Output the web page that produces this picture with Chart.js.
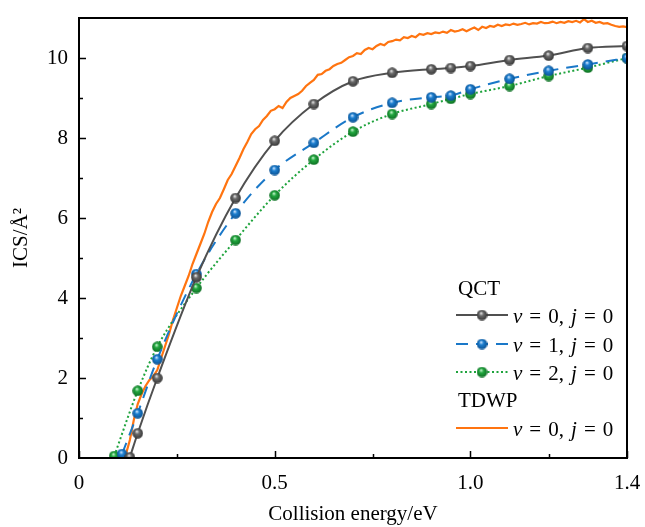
<!DOCTYPE html>
<html>
<head>
<meta charset="utf-8">
<script src="https://cdn.jsdelivr.net/npm/chart.js@4/dist/chart.umd.min.js"></script>
<style>
  html, body { margin: 0; padding: 0; background: #fff; }
  #wrap { width: 645px; height: 527px; }
</style>
</head>
<body>
<div id="wrap"><canvas id="ics-chart"></canvas></div>
<script>
// QCT results, v = 0, 1, 2 (j = 0)
const qctV0E = [0.13, 0.15, 0.2, 0.3, 0.4, 0.5, 0.6, 0.7, 0.8, 0.9, 0.95, 1.0, 1.1, 1.2, 1.3, 1.4];
const qctV0 = [0.02, 0.62, 2.0, 4.52, 6.5, 7.93, 8.85, 9.42, 9.63, 9.72, 9.75, 9.8, 9.95, 10.06, 10.25, 10.3];
const qctV1E = [0.11, 0.15, 0.2, 0.3, 0.4, 0.5, 0.6, 0.7, 0.8, 0.9, 0.95, 1.0, 1.1, 1.2, 1.3, 1.4];
const qctV1 = [0.1, 1.12, 2.47, 4.6, 6.12, 7.2, 7.88, 8.52, 8.88, 9.02, 9.06, 9.22, 9.48, 9.68, 9.84, 10.0];
const qctV2E = [0.09, 0.15, 0.2, 0.3, 0.4, 0.5, 0.6, 0.7, 0.8, 0.9, 0.95, 1.0, 1.1, 1.2, 1.3, 1.4];
const qctV2 = [0.05, 1.68, 2.78, 4.25, 5.45, 6.57, 7.46, 8.16, 8.6, 8.85, 8.98, 9.1, 9.3, 9.55, 9.76, 10.0];

// TDWP, v = 0, j = 0 : energy grid from 0.06 eV every 0.01 eV
const tdwpStart = 0.06, tdwpStep = 0.01;
const tdwpV0 = [
  0, 0, 0, 0, 0, 0.02, 0.1, 0.45, 0.95, 1.35,
  1.6, 1.8, 1.95, 2.05, 2.2, 2.5, 2.8, 3.1, 3.45, 3.75,
  4.05, 4.3, 4.55, 4.85, 5.1, 5.35, 5.6, 5.9, 6.15, 6.35,
  6.5, 6.72, 6.95, 7.1, 7.3, 7.5, 7.72, 7.9, 8.1, 8.22,
  8.3, 8.45, 8.55, 8.68, 8.72, 8.8, 8.75, 8.9, 9.0, 9.05,
  9.1, 9.18, 9.3, 9.38, 9.45, 9.58, 9.6, 9.68, 9.72, 9.8,
  9.85, 9.88, 9.95, 10.02, 10.05, 10.12, 10.1, 10.2, 10.25, 10.22,
  10.3, 10.35, 10.32, 10.4, 10.42, 10.46, 10.44, 10.52, 10.5, 10.55,
  10.52, 10.6, 10.58, 10.62, 10.6, 10.64, 10.62, 10.66, 10.63, 10.7,
  10.66, 10.68, 10.72, 10.67, 10.72, 10.76, 10.7, 10.78, 10.75, 10.8,
  10.78, 10.83, 10.8, 10.84, 10.82, 10.86, 10.83, 10.85, 10.88, 10.84,
  10.87, 10.86, 10.9, 10.87, 10.88, 10.91, 10.87, 10.9, 10.88, 10.92,
  10.9, 10.93, 10.89, 10.97, 10.9, 10.93, 10.88, 10.9, 10.86, 10.87,
  10.83, 10.8, 10.78, 10.79, 10.77
];

const xTickValues = [0, 0.25, 0.5, 0.75, 1.0, 1.2, 1.4];
const xTickLabels = {0: "0", 0.5: "0.5", 1: "1.0", 1.4: "1.4"};
const yLabelValues = [0, 2, 4, 6, 8, 10];

const serif = "'Liberation Serif', 'Times New Roman', serif";

function toPoints(xs, ys) {
  return ys.map((y, i) => ({x: xs[i], y: y}));
}
const tdwpPoints = tdwpV0.map((y, i) => ({x: +(tdwpStart + i * tdwpStep).toFixed(2), y: y}));

// little shaded balls used as markers
function sphere(light, mid, dark) {
  const d = 11;
  const c = document.createElement("canvas");
  c.width = d; c.height = d;
  const g = c.getContext("2d");
  const grd = g.createRadialGradient(4.6, 3.6, 0.3, 5.5, 5.5, 5.6);
  grd.addColorStop(0, light);
  grd.addColorStop(0.35, mid);
  grd.addColorStop(1, dark);
  g.fillStyle = grd;
  g.beginPath();
  g.arc(5.5, 5.5, 5.3, 0, Math.PI * 2);
  g.fill();
  return c;
}
const graySphere = sphere("#e8e8e8", "#6a6a6a", "#333333");
const blueSphere = sphere("#cfe6ff", "#1c7fd0", "#0a4f8f");
const greenSphere = sphere("#c8f5cf", "#22a83f", "#0d6b22");

// frame, inward tick marks and the grouped legend
const framePlugin = {
  id: "frame",
  afterDraw(chart) {
    const ctx = chart.ctx;
    const a = chart.chartArea;
    const xs = chart.scales.x, ys = chart.scales.y;
    ctx.save();
    ctx.strokeStyle = "#000";
    ctx.lineWidth = 2;
    ctx.strokeRect(a.left, a.top, a.right - a.left, a.bottom - a.top);

    ctx.lineWidth = 1.5;
    ctx.beginPath();
    xTickValues.forEach(v => {
      const px = Math.round(xs.getPixelForValue(v)) + 0.5;
      const len = (v in xTickLabels) ? 7 : 4;
      ctx.moveTo(px, a.bottom);
      ctx.lineTo(px, a.bottom - len);
    });
    for (let v = 1; v <= 10; v++) {
      const py = Math.round(ys.getPixelForValue(v)) + 0.5;
      const len = (v % 2 === 0) ? 7 : 4;
      ctx.moveTo(a.left, py);
      ctx.lineTo(a.left + len, py);
    }
    ctx.stroke();

    // legend
    const lx0 = 456, lx1 = 508, tx = 513;
    ctx.fillStyle = "#000";
    ctx.textBaseline = "alphabetic";
    ctx.font = "21px " + serif;
    ctx.fillText("QCT", 458, 295);
    ctx.fillText("TDWP", 458, 407);

    const rows = [
      {ds: 3, y: 315, img: graySphere},
      {ds: 2, y: 344, img: blueSphere},
      {ds: 1, y: 372, img: greenSphere},
      {ds: 0, y: 428, img: null}
    ];
    rows.forEach(r => {
      const dso = chart.data.datasets[r.ds];
      ctx.save();
      ctx.strokeStyle = dso.borderColor;
      ctx.lineWidth = dso.borderWidth;
      ctx.setLineDash(dso.borderDash || []);
      ctx.beginPath();
      ctx.moveTo(lx0, r.y);
      ctx.lineTo(lx1, r.y);
      ctx.stroke();
      ctx.restore();
      if (r.img) ctx.drawImage(r.img, (lx0 + lx1) / 2 - 5.5, r.y - 5.5);
      // "v = n, j = 0" with italic symbols and a bit of math spacing
      const parts = [
        ["italic", "v"], [" "], ["", "="], [" "], ["", dso.vib + ","], [" "],
        ["italic", "j"], [" "], ["", "="], [" "], ["", "0"]
      ];
      let x = tx;
      parts.forEach(p => {
        ctx.font = "21px " + serif;
        if (p.length === 1) {
          x += ctx.measureText(" ").width + 1.8;
          return;
        }
        if (p[0]) ctx.font = p[0] + " 21px " + serif;
        ctx.fillText(p[1], x, r.y + 8);
        x += ctx.measureText(p[1]).width;
      });
    });
    ctx.restore();
  }
};

new Chart("ics-chart", {
  type: "line",
  data: {
    datasets: [
      {
        label: "TDWP v = 0, j = 0",
        vib: 0,
        data: tdwpPoints,
        borderColor: "#ff7410",
        borderWidth: 2.2,
        pointRadius: 0,
        tension: 0
      },
      {
        label: "QCT v = 2, j = 0",
        vib: 2,
        data: toPoints(qctV2E, qctV2),
        borderColor: "#1ea33c",
        borderWidth: 2,
        borderDash: [2, 2.5],
        pointStyle: greenSphere,
        cubicInterpolationMode: "monotone"
      },
      {
        label: "QCT v = 1, j = 0",
        vib: 1,
        data: toPoints(qctV1E, qctV1),
        borderColor: "#1a78c8",
        borderWidth: 2,
        borderDash: [12, 8],
        pointStyle: blueSphere,
        cubicInterpolationMode: "monotone"
      },
      {
        label: "QCT v = 0, j = 0",
        vib: 0,
        data: toPoints(qctV0E, qctV0),
        borderColor: "#505050",
        borderWidth: 2,
        pointStyle: graySphere,
        cubicInterpolationMode: "monotone"
      }
    ].map((d, i) => Object.assign(d, {order: 4 - i}))
  },
  options: {
    responsive: true,
    maintainAspectRatio: false,
    animation: false,
    layout: { padding: { top: 18, right: 18, left: 0, bottom: 0 } },
    plugins: {
      legend: { display: false },
      tooltip: { enabled: false }
    },
    elements: {
      point: { radius: 5.5 },
      line: { fill: false }
    },
    scales: {
      x: {
        type: "linear",
        min: 0,
        max: 1.4,
        afterBuildTicks: scale => {
          scale.ticks = xTickValues.map(v => ({value: v}));
        },
        afterFit: scale => {
          scale.height = 69;
          scale.paddingLeft = 0;
          scale.paddingRight = 0;
        },
        grid: { display: false, drawTicks: false },
        border: { display: false },
        ticks: {
          autoSkip: false,
          maxRotation: 0,
          padding: 13,
          color: "#000",
          font: { family: serif, size: 21 },
          callback: v => (v in xTickLabels) ? xTickLabels[v] : ""
        },
        title: {
          display: true,
          text: "Collision energy/eV",
          color: "#000",
          font: { family: serif, size: 21 },
          padding: { top: 0, bottom: 0 }
        }
      },
      y: {
        min: 0,
        max: 11,
        afterFit: scale => {
          scale.width = 79;
          scale.paddingTop = 0;
          scale.paddingBottom = 0;
        },
        grid: { display: false, drawTicks: false },
        border: { display: false },
        ticks: {
          stepSize: 1,
          autoSkip: false,
          padding: 11,
          color: "#000",
          font: { family: serif, size: 21 },
          callback: v => yLabelValues.includes(v) ? String(v) : ""
        },
        title: {
          display: true,
          text: "ICS/Å²",
          color: "#000",
          font: { family: serif, size: 21 },
          padding: { top: 9, bottom: 0 }
        }
      }
    }
  },
  plugins: [framePlugin]
});
</script>
</body>
</html>
